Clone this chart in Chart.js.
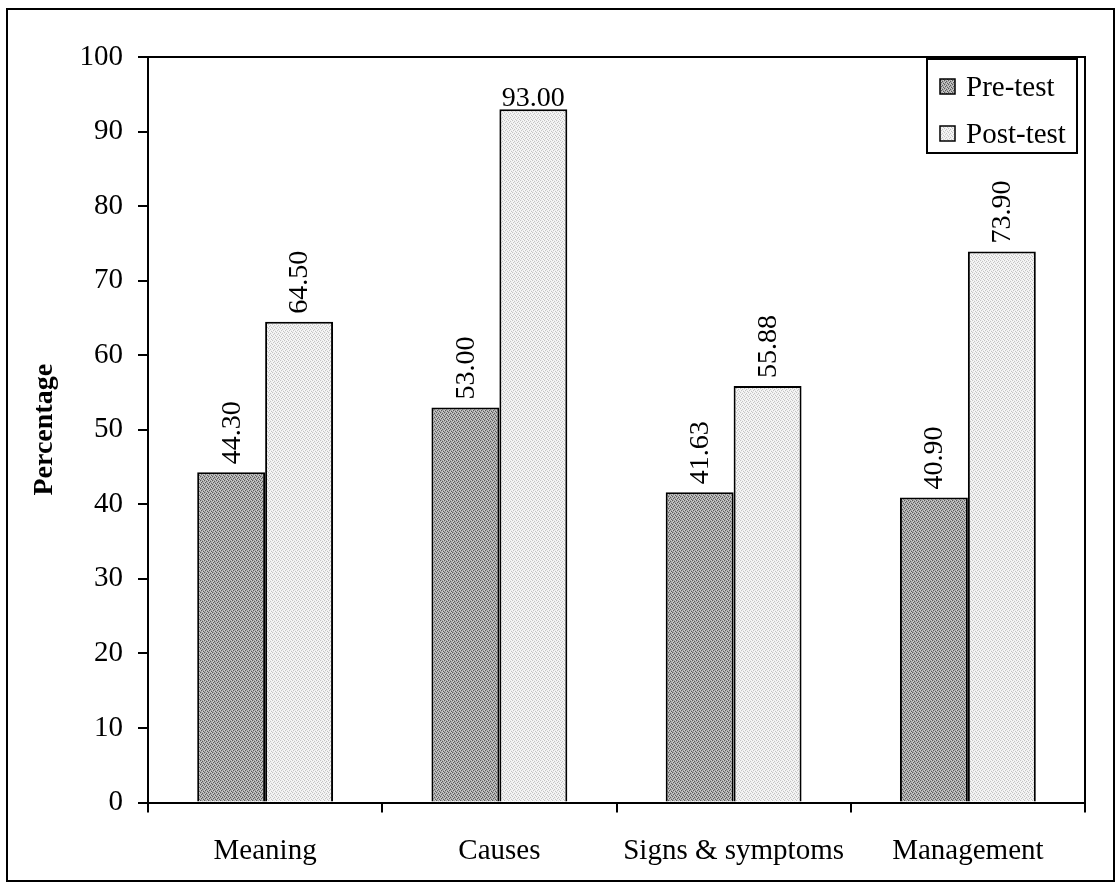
<!DOCTYPE html>
<html>
<head>
<meta charset="utf-8">
<title>Pre-test and post-test knowledge scores</title>
<script src="https://cdn.jsdelivr.net/npm/chart.js@4"></script>
<style>
  html, body { margin: 0; padding: 0; background: #fff; }
  #wrap { width: 1116px; height: 896px; }
</style>
</head>
<body>
<div id="wrap"><canvas id="chart" width="1116" height="896"></canvas></div>
<script>
// Knowledge areas and mean percentage scores
const categories = ['Meaning', 'Causes', 'Signs & symptoms', 'Management'];
const preTest = [44.30, 53.00, 41.63, 40.90];
const postTest = [64.50, 93.00, 55.88, 73.90];
const seriesNames = ['Pre-test', 'Post-test'];
const yMin = 0, yMax = 100, yStep = 10;

const FONT = "'Liberation Serif', 'Times New Roman', serif";

// Stippled fills for the two series
function stipple(base, dots, alt) {
  const c = document.createElement('canvas');
  c.width = 4; c.height = 4;
  const g = c.getContext('2d');
  g.fillStyle = base; g.fillRect(0, 0, 4, 4);
  g.fillStyle = dots;
  [[0,0],[2,1],[1,2],[3,3]].forEach(([x, y]) => g.fillRect(x, y, 1, 1));
  g.fillStyle = alt;
  [[2,3],[0,2],[3,0],[1,1]].forEach(([x, y]) => g.fillRect(x, y, 1, 1));
  return g.createPattern(c, 'repeat');
}
const preFill = stipple('#a8a8a8', '#5a5a5a', '#d0d0d0');
const postFill = stipple('#eeeeee', '#c4c4c4', '#fafafa');

// Frame around the figure and top/right edges of the plot area
const framePlugin = {
  id: 'frame',
  afterDraw(chart) {
    const { ctx, chartArea: a } = chart;
    ctx.save();
    ctx.strokeStyle = '#000';
    ctx.lineWidth = 2;
    ctx.strokeRect(7, 9, 1107, 872);
    ctx.beginPath();
    ctx.moveTo(a.left, a.top);
    ctx.lineTo(a.right, a.top);
    ctx.lineTo(a.right, a.bottom);
    ctx.stroke();
    ctx.restore();
  }
};

// Value labels above each bar
const valueLabels = {
  id: 'valueLabels',
  afterDatasetsDraw(chart) {
    const { ctx } = chart;
    ctx.save();
    ctx.fillStyle = '#000';
    ctx.font = '28px ' + FONT;
    chart.data.datasets.forEach((ds, di) => {
      chart.getDatasetMeta(di).data.forEach((bar, i) => {
        const v = ds.data[i];
        const text = v.toFixed(2);
        if (v > 85) {
          ctx.textAlign = 'center';
          ctx.textBaseline = 'middle';
          ctx.fillText(text, bar.x, bar.y - 11);
        } else {
          ctx.save();
          ctx.translate(bar.x, bar.y - 8);
          ctx.rotate(-Math.PI / 2);
          ctx.textAlign = 'left';
          ctx.textBaseline = 'middle';
          ctx.fillText(text, 0, 1);
          ctx.restore();
        }
      });
    });
    ctx.restore();
  }
};

// Boxed legend in the upper right corner of the plot
const boxLegend = {
  id: 'boxLegend',
  afterDraw(chart) {
    const { ctx } = chart;
    const x = 927, y = 59, w = 150, h = 94;
    ctx.save();
    ctx.fillStyle = '#fff';
    ctx.fillRect(x, y, w, h);
    ctx.strokeStyle = '#000';
    ctx.lineWidth = 2;
    ctx.strokeRect(x, y, w, h);
    ctx.font = '29px ' + FONT;
    ctx.textBaseline = 'middle';
    ctx.textAlign = 'left';
    chart.data.datasets.forEach((ds, i) => {
      const cy = y + 28 + i * 47;
      ctx.fillStyle = ds.backgroundColor;
      ctx.fillRect(940, cy - 8, 15, 15);
      ctx.lineWidth = 1.5;
      ctx.strokeRect(940, cy - 8, 15, 15);
      ctx.fillStyle = '#000';
      ctx.fillText(ds.label, 966, cy + 1);
    });
    ctx.restore();
  }
};

new Chart(document.getElementById('chart'), {
  type: 'bar',
  data: {
    labels: categories,
    datasets: [
      { label: seriesNames[0], data: preTest, backgroundColor: preFill,
        borderColor: '#000', borderWidth: 2 },
      { label: seriesNames[1], data: postTest, backgroundColor: postFill,
        borderColor: '#000', borderWidth: 2 }
    ]
  },
  options: {
    responsive: false,
    animation: false,
    events: [],
    layout: { padding: { top: 57, right: 31, left: 0, bottom: 0 } },
    plugins: { legend: { display: false }, tooltip: { enabled: false } },
    datasets: { bar: { categoryPercentage: 0.58, barPercentage: 1.0 } },
    scales: {
      x: {
        grid: { offset: true, drawOnChartArea: false, drawTicks: true,
                tickLength: 10, color: '#000', lineWidth: 2 },
        border: { display: true, color: '#000', width: 2 },
        ticks: { color: '#000', font: { family: FONT, size: 29 },
                 padding: 21, maxRotation: 0, autoSkip: false },
        afterFit(s) { s.height = 93.5; }
      },
      y: {
        min: yMin, max: yMax,
        grid: { drawOnChartArea: false, drawTicks: true, tickLength: 10,
                color: '#000', lineWidth: 2 },
        border: { display: true, color: '#000', width: 2 },
        ticks: { stepSize: yStep, color: '#000',
                 font: { family: FONT, size: 29 }, padding: 15 },
        title: { display: true, text: 'Percentage', color: '#000',
                 font: { family: FONT, size: 28, weight: 'bold' },
                 padding: { top: 28, bottom: 0 } },
        afterFit(s) { s.width = 148; }
      }
    }
  },
  plugins: [framePlugin, valueLabels, boxLegend]
});
</script>
</body>
</html>
